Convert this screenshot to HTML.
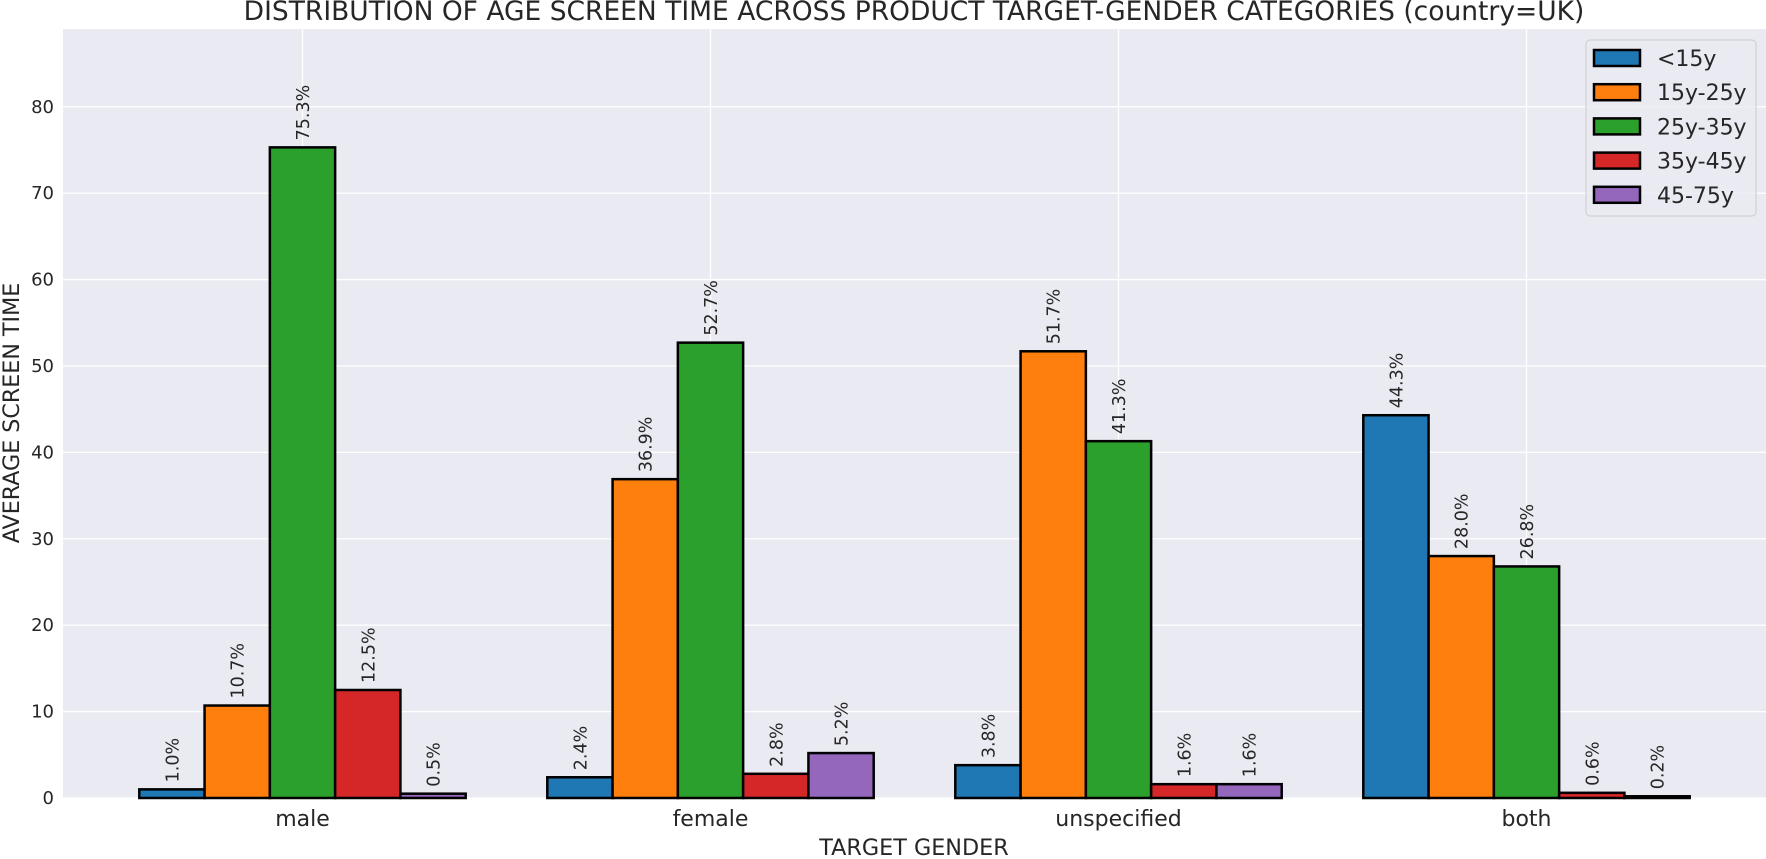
<!DOCTYPE html>
<html><head><meta charset="utf-8"><style>
html,body{margin:0;padding:0;background:#fff;}
svg{display:block;font-family:"DejaVu Sans","Liberation Sans",sans-serif;}
</style></head><body>
<svg id="chart" width="1766" height="859" viewBox="0 0 1766 859" xmlns="http://www.w3.org/2000/svg">
<rect x="0" y="0" width="1766" height="859" fill="#fff"/>
<rect x="63" y="29" width="1703" height="769" fill="#eaeaf2"/>
<g id="grid"></g>
<g id="bars"></g>
<g id="labels"></g>
<g id="ticks"></g>
<text x="914" y="20" text-anchor="middle" font-size="26.5" fill="#262626">DISTRIBUTION OF AGE SCREEN TIME ACROSS PRODUCT TARGET-GENDER CATEGORIES (country=UK)</text>
<text x="914" y="855" text-anchor="middle" font-size="22.3" fill="#262626">TARGET GENDER</text>
<text transform="translate(19,413) rotate(-90)" text-anchor="middle" font-size="22.2" fill="#262626">AVERAGE SCREEN TIME</text>
<g id="legend">
<rect x="1586" y="40" width="170" height="176" rx="4" fill="#eaeaf2" fill-opacity="0.8" stroke="#cccccc" stroke-width="1"/>
</g>
</svg>
<script>
const categories = ["male","female","unspecified","both"];
const seriesNames = ["<15y","15y-25y","25y-35y","35y-45y","45-75y"];
const seriesLt15 = [1.0, 2.4, 3.8, 44.3];
const series15to25 = [10.7, 36.9, 51.7, 28.0];
const series25to35 = [75.3, 52.7, 41.3, 26.8];
const series35to45 = [12.5, 2.8, 1.6, 0.6];
const series45to75 = [0.5, 5.2, 1.6, 0.2];
const yTicks = [0,10,20,30,40,50,60,70,80];

const allSeries = [seriesLt15, series15to25, series25to35, series35to45, series45to75];
const colors = ["#1f77b4","#ff7f0e","#2ca02c","#d62728","#9467bd"];
const NS = "http://www.w3.org/2000/svg";
const L = 63, R = 1766, T = 29, B = 798;
const xMin = -0.587, xMax = 3.587, yMax = 89;
const BW = 0.16;
function xs(v){ return L + (v - xMin) / (xMax - xMin) * (R - L); }
function ys(v){ return B - v / yMax * (B - T); }
function mk(tag, attrs, parent){ const e = document.createElementNS(NS, tag); for (const k in attrs) e.setAttribute(k, attrs[k]); parent.appendChild(e); return e; }
const grid = document.getElementById('grid');
const bars = document.getElementById('bars');
const labels = document.getElementById('labels');
const ticks = document.getElementById('ticks');
const legend = document.getElementById('legend');

yTicks.forEach(t => {
  const ln = mk('line', {x1:L, x2:R, y1:ys(t), y2:ys(t), stroke:'#fff', 'stroke-width':1.3}, grid);
  
  
  const tx = mk('text', {x:L-9, y:ys(t)+6, 'text-anchor':'end', 'font-size':18, fill:'#262626'}, ticks);
  tx.textContent = t;
  
  
});
categories.forEach((c, i) => {
  const ln = mk('line', {x1:xs(i), x2:xs(i), y1:T, y2:B, stroke:'#fff', 'stroke-width':1.3}, grid);
  
  
  const tx = mk('text', {x:xs(i), y:826, 'text-anchor':'middle', 'font-size':22, fill:'#262626'}, ticks);
  tx.textContent = c;
  
  
});
allSeries.forEach((vals, s) => {
  vals.forEach((v, i) => {
    const cx = i + (s - 2) * BW;
    const x0 = xs(cx - BW/2), x1 = xs(cx + BW/2);
    const r = mk('rect', {x:x0, y:ys(v), width:x1-x0, height:ys(0)-ys(v), fill:colors[s], stroke:'#000', 'stroke-width':2.5}, bars);
    
    
    const mx = xs(cx) + 6.5, my = ys(v) - 7;
    const tx = mk('text', {x:mx, y:my, transform:'rotate(-90 ' + mx + ' ' + my + ')', 'font-size':17.5, fill:'#262626'}, labels);
    tx.textContent = v.toFixed(1) + '%';
    
    
  });
});
seriesNames.forEach((n, s) => {
  const cy = 58 + s * 34.2;
  const p = mk('rect', {x:1594, y:cy-8, width:46, height:16, fill:colors[s], stroke:'#000', 'stroke-width':2.5}, legend);
  
  
  const tx = mk('text', {x:1657, y:cy+8, 'font-size':22, fill:'#262626'}, legend);
  tx.textContent = n;
  
  
});
</script>
</body></html>
